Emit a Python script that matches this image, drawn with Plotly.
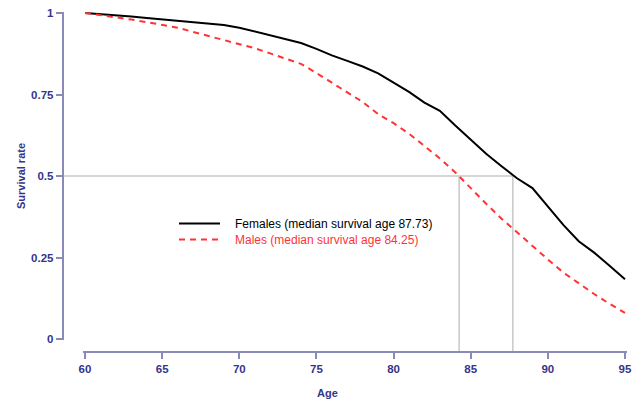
import plotly.graph_objects as go

# ---- data ----
ages = list(range(60, 96))
females = [1.000, 0.997, 0.993, 0.989, 0.985, 0.981, 0.976, 0.972, 0.968, 0.963,
           0.955, 0.943, 0.933, 0.921, 0.908, 0.890, 0.870, 0.853, 0.836, 0.815,
           0.786, 0.758, 0.725, 0.700, 0.655, 0.612, 0.568, 0.530, 0.493, 0.463,
           0.405, 0.350, 0.300, 0.265, 0.225, 0.183]
males = [1.000, 0.994, 0.987, 0.980, 0.972, 0.963, 0.955, 0.942, 0.930, 0.917,
         0.905, 0.892, 0.876, 0.861, 0.844, 0.816, 0.787, 0.757, 0.727, 0.690,
         0.662, 0.630, 0.593, 0.554, 0.511, 0.462, 0.415, 0.369, 0.327, 0.285,
         0.244, 0.204, 0.170, 0.138, 0.108, 0.080]
median_female = 87.73
median_male = 84.25
x_ticks = [60, 65, 70, 75, 80, 85, 90, 95]
y_ticks = [0, 0.25, 0.5, 0.75, 1]
y_tick_labels = ["0", "0.25", "0.5", "0.75", "1"]

W, H = 633, 399
FONT = "Liberation Sans, Arial, Helvetica, sans-serif"
AXIS_COL = "#8a8ab8"
LABEL_COL = "#35358a"
RED = "#ff3333"
GREY = "#c8c8c8"

# layout in pixels
px_x0, px_x1 = 85, 625     # age 60 .. 95
px_y1, px_y0 = 13, 339     # value 1 .. 0
xr = [59.9, 95.1]
yr = [-0.003, 1.003]

def xp(px):
    return px / W

def yp(py):
    return 1 - py / H

sx = (px_x1 - px_x0) / (95 - 60)
dom_x = [xp(px_x0 - (60 - xr[0]) * sx), xp(px_x1 + (xr[1] - 95) * sx)]
sy = (px_y0 - px_y1) / 1.0
dom_y = [yp(px_y0 + (0 - yr[0]) * sy), yp(px_y1 - (yr[1] - 1) * sy)]

def data_to_paper_x(v):
    return dom_x[0] + (v - xr[0]) / (xr[1] - xr[0]) * (dom_x[1] - dom_x[0])

def data_to_paper_y(v):
    return dom_y[0] + (v - yr[0]) / (yr[1] - yr[0]) * (dom_y[1] - dom_y[0])

PAD = "&nbsp;&nbsp;&nbsp;"

fig = go.Figure()
fig.add_trace(go.Scatter(
    x=ages, y=females, mode="lines",
    name=PAD + "Females (median survival age 87.73)",
    line=dict(color="black", width=2),
    legend="legend",
))
fig.add_trace(go.Scatter(
    x=ages, y=males, mode="lines",
    name=PAD + f'<span style="color:{RED}">Males (median survival age 84.25)</span>',
    line=dict(color=RED, width=2, dash="6px,5px"),
    legend="legend2",
))

axis_y_paper = yp(352)
axis_x_paper = xp(62.5)

shapes = []
shapes.append(dict(type="line", xref="paper", yref="paper",
                   x0=axis_x_paper, x1=data_to_paper_x(median_female),
                   y0=data_to_paper_y(0.5), y1=data_to_paper_y(0.5),
                   line=dict(color=GREY, width=1.5), layer="below"))
for m in (median_male, median_female):
    shapes.append(dict(type="line", xref="paper", yref="paper",
                       x0=data_to_paper_x(m), x1=data_to_paper_x(m),
                       y0=axis_y_paper, y1=data_to_paper_y(0.5),
                       line=dict(color=GREY, width=1.5), layer="below"))

legend_common = dict(xanchor="left", yanchor="top", bgcolor="rgba(0,0,0,0)",
                     font=dict(size=12, color="black"), itemwidth=41)

tickfont = dict(family=FONT, size=11.5, color=LABEL_COL, weight="bold")

fig.update_layout(
    width=W, height=H,
    margin=dict(l=0, r=0, t=0, b=0, autoexpand=False),
    paper_bgcolor="white", plot_bgcolor="white",
    font=dict(family=FONT, size=12, color="black"),
    showlegend=True,
    legend=dict(x=xp(174), y=yp(209), **legend_common),
    legend2=dict(x=xp(174), y=yp(225), **legend_common),
    xaxis=dict(domain=dom_x, range=xr, anchor="free", position=axis_y_paper,
               automargin=False,
               showgrid=False, zeroline=False, showline=True, linecolor=AXIS_COL,
               linewidth=1.5, ticks="outside", ticklen=6, tickwidth=1.5,
               tickcolor=AXIS_COL, tickvals=x_ticks, tickfont=tickfont),
    yaxis=dict(domain=dom_y, range=yr, anchor="free", position=axis_x_paper,
               automargin=False,
               showgrid=False, zeroline=False, showline=True, linecolor=AXIS_COL,
               linewidth=1.5, ticks="outside", ticklen=6, tickwidth=1.5,
               tickcolor=AXIS_COL, tickvals=y_ticks, ticktext=y_tick_labels,
               tickfont=tickfont),
    shapes=shapes,
    annotations=[
        dict(text="<b>Age</b>", x=xp(328), y=yp(393), xref="paper", yref="paper",
             showarrow=False, font=dict(family=FONT, size=11, color=LABEL_COL),
             xanchor="center", yanchor="middle"),
        dict(text="<b>Survival rate</b>", x=xp(21), y=yp(176), xref="paper", yref="paper",
             showarrow=False, textangle=-90, font=dict(family=FONT, size=11, color=LABEL_COL),
             xanchor="center", yanchor="middle"),
    ],
)

fig.write_html("out.html")
